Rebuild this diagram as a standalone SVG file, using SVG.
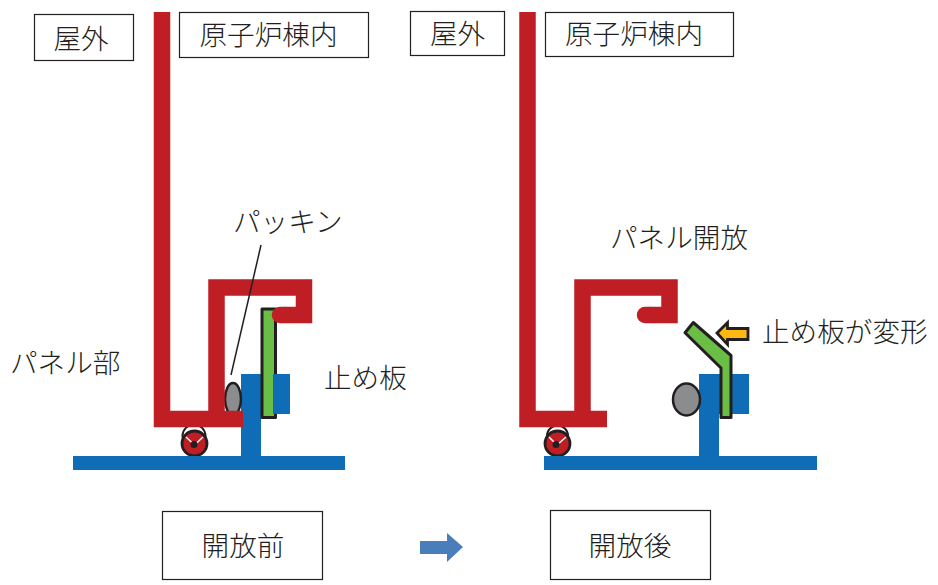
<svg xmlns="http://www.w3.org/2000/svg" width="938" height="585" viewBox="0 0 938 585">
<style>
.t{font-family:"Noto Sans CJK JP","Noto Sans CJK SC",sans-serif;font-size:27.6px;fill:#231f20;font-weight:300}
.box{fill:#fff;stroke:#231f20;stroke-width:1.2}
.red{fill:none;stroke:#be1e24;stroke-width:16.5;stroke-linejoin:miter}
.cap{fill:none;stroke:#be1e24;stroke-width:16.5;stroke-linecap:round}
.blue{fill:#0f6db8}
.gr{fill:#6abd45;stroke:#231f20;stroke-width:3;stroke-linejoin:round}
.gy{fill:#8a8c8e;stroke:#231f20;stroke-width:2.5}
.c{fill:#be1e24;stroke:#231f20;stroke-width:2.8}
.lp{fill:none;stroke:#231f20;stroke-width:2}
.v{fill:none;stroke:#fff;stroke-width:1.5}
</style>
<rect width="938" height="585" fill="#fff"/>
<g id="seal-before"><circle class="lp" cx="194" cy="436" r="11.500"/><circle class="c" cx="194.500" cy="443.500" r="12.500"/><path class="v" d="M186 437L194.500 445L203 437"/><circle cx="194" cy="444.500" r="3.500" fill="#231f20"/></g>
<g id="seal-after"><circle class="lp" cx="557.500" cy="436" r="10.500"/><circle class="c" cx="557.500" cy="443.500" r="12.500"/><path class="v" d="M549 437L557 445L566 437"/><circle cx="556" cy="444.500" r="3.500" fill="#231f20"/></g>
<g id="base-before"><rect class="blue" x="73" y="456" width="272" height="14"/><rect class="blue" x="241" y="374" width="20" height="84"/></g>
<g id="base-after"><rect class="blue" x="544" y="456" width="273" height="14"/><rect class="blue" x="699" y="374" width="20" height="84"/><rect class="blue" x="719" y="374" width="30" height="40"/></g>
<g id="packing-before"><ellipse class="gy" cx="233" cy="399" rx="8" ry="16"/></g>
<g id="stopper-before"><rect class="gr" x="262" y="309" width="13.500" height="108.500"/><rect class="blue" x="273" y="374" width="17" height="40"/></g>
<g id="panel-before"><path class="red" d="M162 12V419H243M216.500 419V287.500H304V315H285"/><path class="cap" d="M285 315H280"/></g>
<g id="packing-after"><ellipse class="gy" cx="686.500" cy="399.500" rx="13.500" ry="16"/></g>
<g id="stopper-after"><path class="gr" d="M685 332.700L693.300 322.500L731 355.500V417.500H721V368Z"/></g>
<g id="panel-after"><path class="red" d="M527.500 12V419H607M582.500 419V287.500H669.500V315H650"/><path class="cap" d="M650 315H645"/></g>
<g id="arrow-deform"><path d="M717 333L727.500 322.700V328.500H748V339.500H727.500V344.500Z" fill="#fdb913" stroke="#231f20" stroke-width="2.800"/></g>
<g id="arrow-main"><path d="M420 541H447V533L463 547L447 562V554H420Z" fill="#4a7ebb"/></g>
<g id="connectors"><line x1="261" y1="245" x2="231" y2="375" stroke="#231f20" stroke-width="1.500"/></g>
<g id="label-out1"><rect class="box" x="34.500" y="14.500" width="99" height="46"/><text class="t" x="81" y="48.500" text-anchor="middle">屋外</text></g>
<g id="label-in1"><rect class="box" x="179.500" y="12.500" width="189" height="45"/><text class="t" x="268.500" y="45" text-anchor="middle">原子炉棟内</text></g>
<g id="label-out2"><rect class="box" x="410.500" y="11.500" width="94" height="44"/><text class="t" x="457.500" y="44" text-anchor="middle">屋外</text></g>
<g id="label-in2"><rect class="box" x="545.500" y="12.500" width="188" height="44"/><text class="t" x="634" y="44" text-anchor="middle">原子炉棟内</text></g>
<g id="label-before"><rect class="box" x="162.500" y="511.500" width="160" height="68"/><text class="t" x="243" y="555.500" text-anchor="middle">開放前</text></g>
<g id="label-after"><rect class="box" x="550.500" y="510.500" width="160" height="69"/><text class="t" x="630" y="555.500" text-anchor="middle">開放後</text></g>
<text class="t" x="233" y="231.500">パッキン</text>
<text class="t" x="10" y="372.500">パネル部</text>
<text class="t" x="324" y="387.500">止め板</text>
<text class="t" x="610" y="247.500">パネル開放</text>
<text class="t" x="762" y="342">止め板が変形</text>
</svg>
